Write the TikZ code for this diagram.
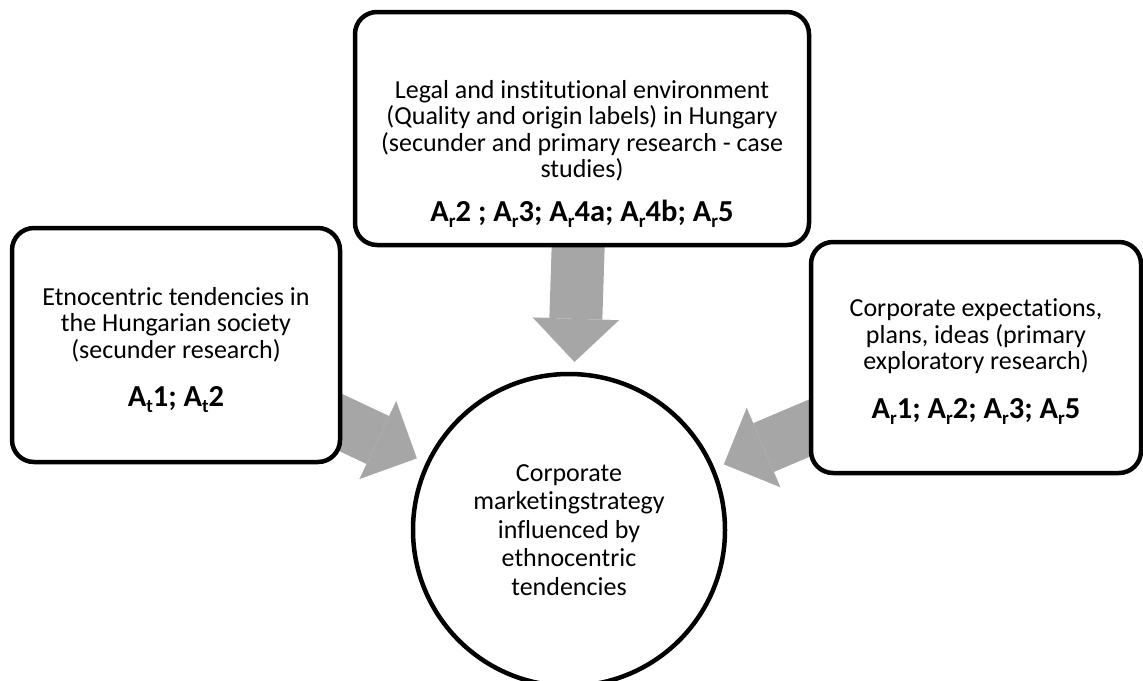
\documentclass[tikz,border=0pt]{standalone}
\usepackage{fontspec}
\setmainfont{Carlito}[Ligatures=NoCommon]
\usetikzlibrary{arrows.meta,backgrounds}

\definecolor{flowgray}{HTML}{A6A6A6}
\newcommand{\Asub}[2]{A\raisebox{-6pt}{\fontsize{19}{19}\selectfont #1}#2}
\newcommand{\reflist}[1]{{\fontsize{30.5}{34}\selectfont\bfseries #1}}

\begin{document}
\begin{tikzpicture}[x=1pt,y=-1pt,
					line width=4.5pt,
					box node/.style={rectangle,draw,fill=white,rounded corners=22pt},
					box text/.style={anchor=north,inner sep=0pt,align=center,
						font=\fontsize{26}{26.5}\selectfont},
					hub node/.style={circle,draw,fill=white,minimum size=312pt,
						align=center,font=\fontsize{26}{28.5}\selectfont},
					flow/.style={color=flowgray,line width=53pt,
						-{Triangle[length=43pt,width=86pt,line width=0.01pt]},shorten >=10pt}]

  \useasboundingbox (0,0) rectangle (1143,680);

  \node[box node,minimum width=454pt,minimum height=233pt] (legal) at (582,128.5) {};
  \node[box node,minimum width=328pt,minimum height=234pt] (society) at (176,345) {};
  \node[box node,minimum width=330pt,minimum height=231pt] (corporate) at (976,357.5) {};
  \node[hub node] (strategy) at (569,530)
    {Corporate\\marketingstrategy\\influenced by\\ethnocentric\\tendencies};

  \node[box text] (legal text) at ([yshift=-68pt]legal.north)
    {Legal and institutional environment\\(Quality and origin labels) in Hungary\\
     (secunder and primary research - case\\studies)\\[17pt]
     \reflist{\Asub{r}{2} ; \Asub{r}{3}; \Asub{r}{4a}; \Asub{r}{4b}; \Asub{r}{5}}};
  \node[box text] (society text) at ([yshift=-59pt]society.north)
    {Etnocentric tendencies in\\the Hungarian society\\(secunder research)\\[22pt]
     \reflist{\Asub{t}{1}; \Asub{t}{2}}};
  \node[box text] (corporate text) at ([yshift=-57pt]corporate.north)
    {Corporate expectations,\\plans, ideas (primary\\exploratory research)\\[22pt]
     \reflist{\Asub{r}{1}; \Asub{r}{2}; \Asub{r}{3}; \Asub{r}{5}}};

  % block arrows behind the boxes
  \begin{scope}[on background layer]
  \path[flow]
    (legal.center) edge (strategy)
    (society.center) edge (strategy)
    (corporate.center) edge (strategy);
  \end{scope}
\end{tikzpicture}
\end{document}
